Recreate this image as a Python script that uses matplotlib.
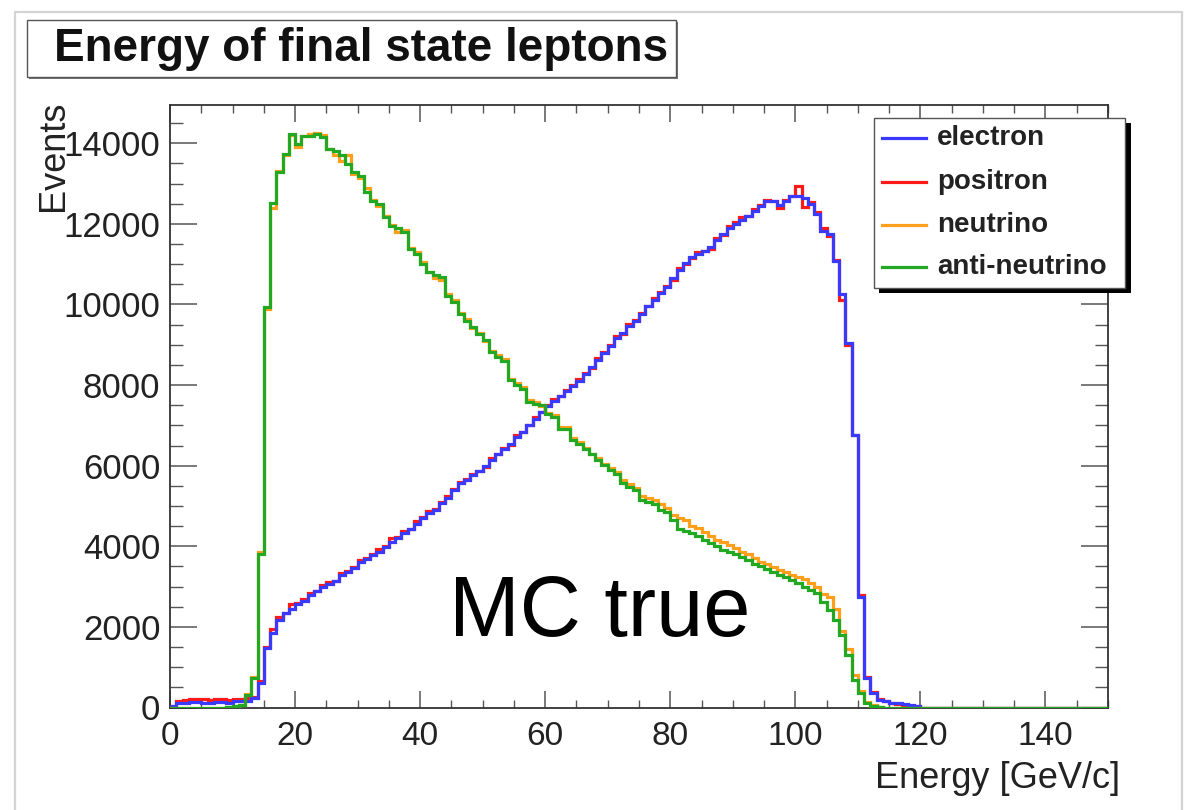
import numpy as np
import matplotlib
matplotlib.use("Agg")
import matplotlib.pyplot as plt
from matplotlib.patches import Rectangle
from matplotlib.lines import Line2D

plt.rcParams['font.family'] = ['Liberation Sans', 'DejaVu Sans']

# ---------------- data (1 GeV bins from 0 to 150) ----------------
bin_low, bin_high, n_bins = 0, 150, 150

electron = [
    30, 100, 120, 130, 130, 120, 120, 130, 140, 120,
    150, 160, 170, 240, 620, 1480, 1850, 2170, 2340, 2450,
    2560, 2650, 2800, 2880, 2990, 3070, 3150, 3280, 3360, 3470,
    3600, 3680, 3780, 3860, 3990, 4110, 4200, 4340, 4440, 4560,
    4700, 4820, 4900, 5080, 5200, 5400, 5560, 5650, 5760, 5870,
    6000, 6150, 6280, 6420, 6550, 6720, 6830, 7000, 7160, 7330,
    7480, 7600, 7720, 7860, 7980, 8110, 8280, 8440, 8620, 8800,
    8980, 9180, 9300, 9470, 9600, 9760, 9970, 10100, 10280, 10430,
    10650, 10850, 11020, 11170, 11250, 11330, 11420, 11600, 11760, 11910,
    12000, 12100, 12200, 12330, 12450, 12570, 12560, 12480, 12560, 12700,
    12700, 12650, 12500, 12250, 11830, 11750, 11090, 10250, 9050, 6750,
    2750, 720, 350, 190, 150, 120, 100, 80, 60, 40,
] + [0] * 30

positron = [
    40, 150, 190, 210, 210, 200, 190, 200, 210, 190,
    210, 220, 230, 260, 650, 1500, 1950, 2250, 2350, 2570,
    2600, 2680, 2830, 2890, 3050, 3110, 3150, 3330, 3380, 3480,
    3650, 3700, 3800, 3930, 4010, 4200, 4230, 4380, 4420, 4620,
    4720, 4880, 4920, 5100, 5250, 5420, 5600, 5660, 5800, 5880,
    5980, 6200, 6300, 6450, 6520, 6750, 6830, 7020, 7200, 7320,
    7500, 7650, 7740, 7880, 8000, 8150, 8300, 8420, 8660, 8820,
    9000, 9220, 9280, 9520, 9620, 9800, 9960, 10150, 10300, 10470,
    10620, 10900, 11000, 11150, 11300, 11330, 11380, 11650, 11720, 11950,
    12050, 12180, 12200, 12380, 12480, 12600, 12560, 12400, 12600, 12680,
    12950, 12430, 12550, 12300, 11900, 11700, 11100, 10100, 9000, 6750,
    2800, 750, 380, 210, 160, 120, 90, 70, 40, 30,
] + [0] * 30

neutrino = [
    0, 0, 0, 0, 0, 0, 0, 0, 0, 10,
    30, 70, 340, 760, 3850, 9900, 12400, 13300, 13700, 14200,
    13900, 14180, 14230, 14250, 14200, 13860, 13700, 13560, 13700, 13250,
    13150, 12900, 12600, 12450, 12200, 11980, 11800, 11850, 11400, 11300,
    11050, 10800, 10650, 10600, 10250, 10100, 9800, 9650, 9420, 9300,
    9100, 8850, 8750, 8650, 8150, 8050, 7950, 7620, 7580, 7480,
    7300, 7250, 6950, 6950, 6680, 6600, 6450, 6300, 6180, 6050,
    5950, 5850, 5650, 5550, 5450, 5250, 5200, 5150, 5050, 4950,
    4780, 4700, 4650, 4500, 4450, 4350, 4250, 4150, 4100, 4020,
    3950, 3870, 3800, 3700, 3620, 3550, 3480, 3400, 3350, 3300,
    3250, 3200, 3100, 3000, 2820, 2750, 2450, 1900, 1450, 800,
    420, 130, 50, 20, 0, 0, 0, 0, 0, 0,
] + [0] * 30

anti_neutrino = [
    0, 0, 0, 0, 0, 0, 0, 0, 0, 10,
    30, 60, 320, 744, 3820, 9950, 12530, 13280, 13730, 14230,
    13980, 14180, 14180, 14230, 14150, 13860, 13820, 13700, 13480, 13280,
    13190, 12780, 12580, 12490, 12160, 11950, 11900, 11790, 11380, 11250,
    11000, 10800, 10720, 10670, 10220, 10050, 9770, 9600, 9430, 9270,
    9110, 8820, 8700, 8610, 8120, 8000, 7910, 7580, 7540, 7500,
    7290, 7200, 6920, 6920, 6630, 6550, 6420, 6280, 6130, 6010,
    5900, 5800, 5560, 5470, 5390, 5140, 5100, 5060, 4900, 4850,
    4650, 4420, 4380, 4320, 4250, 4150, 4070, 4000, 3920, 3860,
    3820, 3740, 3650, 3570, 3500, 3430, 3370, 3300, 3230, 3160,
    3080, 3000, 2910, 2830, 2620, 2420, 2170, 1800, 1300, 680,
    350, 100, 40, 20, 0, 0, 0, 0, 0, 0,
] + [0] * 30

labels = ["electron", "positron", "neutrino", "anti-neutrino"]
colors = ["#3a3aff", "#ff1a1a", "#ff9f1c", "#22a822"]
series = [electron, positron, neutrino, anti_neutrino]
draw_order = [1, 0, 2, 3]  # positron under electron, neutrino under anti-neutrino

title = "Energy of final state leptons"
x_label = "Energy [GeV/c]"
y_label = "Events"
x_ticks = [0, 20, 40, 60, 80, 100, 120, 140]
y_ticks = [0, 2000, 4000, 6000, 8000, 10000, 12000, 14000]

# ---------------- figure ----------------
W, H = 1195, 810
fig = plt.figure(figsize=(W / 100, H / 100), dpi=100)
fig.patch.set_facecolor("white")


def fx(x):
    return x / W


def fy(y):
    return 1 - y / H


# canvas border
fig.add_artist(Rectangle((fx(15), fy(830)), fx(1182) - fx(15), fy(12) - fy(830),
                         transform=fig.transFigure, facecolor="none",
                         edgecolor="#d4d4d4", lw=1.6))

ax = fig.add_axes([fx(170), fy(707.5), fx(1108) - fx(170), fy(105) - fy(707.5)])

edges = np.linspace(bin_low, bin_high, n_bins + 1)
for i in draw_order:
    ax.stairs(series[i], edges, color=colors[i], lw=2.3, baseline=None,
              zorder=3 + draw_order.index(i))

ax.set_xlim(0, 150)
ax.set_ylim(0, 14950)
ax.set_xticks(x_ticks)
ax.set_yticks(y_ticks)
ax.xaxis.set_minor_locator(matplotlib.ticker.MultipleLocator(5))
ax.yaxis.set_minor_locator(matplotlib.ticker.MultipleLocator(500))

for s in ax.spines.values():
    s.set_color("#333333")
    s.set_linewidth(1.3)

ax.tick_params(axis="x", which="major", direction="in", length=12, width=1.1,
               top=True, bottom=True, pad=10, labelsize=24, colors="#555555",
               labelcolor="#222222")
ax.tick_params(axis="x", which="minor", direction="in", length=6, width=1.0,
               top=True, bottom=True, colors="#555555")
ax.tick_params(axis="y", which="major", direction="in", length=19.5, width=1.1,
               left=True, right=True, pad=7, labelsize=25, colors="#555555",
               labelcolor="#222222")
ax.tick_params(axis="y", which="minor", direction="in", length=9.5, width=1.0,
               left=True, right=True, colors="#555555")

ax.set_xlabel(x_label, loc="right", fontsize=26, color="#222222")
ax.xaxis.set_label_coords(1.013, -0.088)
ax.set_ylabel(y_label, loc="top", fontsize=26, color="#222222")
ax.yaxis.set_label_coords(-0.106, 1.008)

# title box (ROOT style)
fig.add_artist(Rectangle((fx(29), fy(79)), fx(678) - fx(29), fy(22) - fy(79),
                         transform=fig.transFigure, facecolor="#777777",
                         edgecolor="none"))
fig.add_artist(Rectangle((fx(27), fy(77)), fx(676) - fx(27), fy(20) - fy(77),
                         transform=fig.transFigure, facecolor="white",
                         edgecolor="#555555", lw=1.0))
fig.text(fx(361), fy(49), title, fontsize=33, fontweight="bold",
         ha="center", va="center", color="#111111")

# MC true annotation
fig.text(fx(449), fy(636), "MC true", fontsize=61, ha="left", va="baseline",
         color="black")

# legend (ROOT style with black shadow)
fig.add_artist(Rectangle((fx(879), fy(293)), fx(1131) - fx(879), fy(123) - fy(293),
                         transform=fig.transFigure, facecolor="black",
                         edgecolor="none", zorder=10))
fig.add_artist(Rectangle((fx(874), fy(288)), fx(1125) - fx(874), fy(118) - fy(288),
                         transform=fig.transFigure, facecolor="white",
                         edgecolor="#555555", lw=1.0, zorder=11))
entry_y = [138, 182, 225, 267]
for lab, col, yy in zip(labels, colors, entry_y):
    fig.add_artist(Line2D([fx(882), fx(926)], [fy(yy), fy(yy)],
                          transform=fig.transFigure, color=col, lw=2.3, zorder=12))
    fig.text(fx(937), fy(yy), lab, fontsize=20, fontweight="bold",
             ha="left", va="center", color="#222222", zorder=12)

fig.savefig("out.png", dpi=100)
